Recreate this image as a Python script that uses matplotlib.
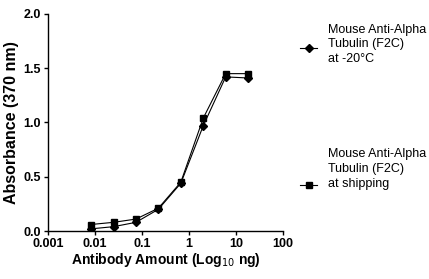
import matplotlib
matplotlib.use("Agg")
import matplotlib.pyplot as plt
from matplotlib import font_manager
from matplotlib.lines import Line2D

# ── data ──────────────────────────────────────────────────────────────────────
amount_ng = [0.0082, 0.0247, 0.074, 0.222, 0.667, 2.0, 6.0, 18.0]
abs_minus20 = [0.02, 0.04, 0.08, 0.20, 0.44, 0.97, 1.42, 1.41]
abs_shipping = [0.06, 0.08, 0.11, 0.21, 0.45, 1.04, 1.45, 1.45]

x_ticks = [0.001, 0.01, 0.1, 1, 10, 100]
x_ticklabels = ["0.001", "0.01", "0.1", "1", "10", "100"]
y_ticks = [0.0, 0.5, 1.0, 1.5, 2.0]
legend_labels = ["Mouse Anti-Alpha\nTubulin (F2C)\nat -20\u00b0C",
                 "Mouse Anti-Alpha\nTubulin (F2C)\nat shipping"]

# ── font: narrow sans if installed ────────────────────────────────────────────
names = {f.name for f in font_manager.fontManager.ttflist}
FAM = "Liberation Sans Narrow" if "Liberation Sans Narrow" in names else "Liberation Sans"
plt.rcParams["font.family"] = [FAM, "DejaVu Sans"]

fig = plt.figure(figsize=(4.29, 2.79), dpi=100)
ax = fig.add_axes([0.112, 0.172, 0.548, 0.778])

ax.plot(amount_ng, abs_minus20, color="black", lw=0.8, marker="D", ms=4.5)
ax.plot(amount_ng, abs_shipping, color="black", lw=0.8, marker="s", ms=5)

ax.set_xscale("log")
ax.set_xlim(0.001, 100)
ax.set_ylim(0, 2.0)
ax.set_xticks(x_ticks)
ax.set_xticklabels(x_ticklabels)
ax.xaxis.set_minor_locator(matplotlib.ticker.NullLocator())
ax.set_yticks(y_ticks)
ax.set_yticklabels([f"{v:.1f}" for v in y_ticks])

for sp in ["top", "right"]:
    ax.spines[sp].set_visible(False)
for sp in ["left", "bottom"]:
    ax.spines[sp].set_linewidth(1.0)
ax.tick_params(direction="out", length=3, width=1.0, labelsize=9, pad=2)
for lab in ax.get_xticklabels() + ax.get_yticklabels():
    lab.set_fontweight("bold")

ax.set_xlabel("Antibody Amount (Log$_{10}$ ng)", fontsize=10,
              fontweight="bold", labelpad=1)
ax.set_ylabel("Absorbance (370 nm)", fontsize=11.5, fontweight="bold", labelpad=3)

# ── manual legend on the right ────────────────────────────────────────────────
for (label, marker, ms, y_text, y_mark) in [
    (legend_labels[0], "D", 4.5, 0.915, 0.828),
    (legend_labels[1], "s", 5, 0.468, 0.337),
]:
    fig.add_artist(Line2D([0.70, 0.72, 0.74], [y_mark] * 3, color="black",
                          lw=0.8, marker=marker, ms=ms,
                          markevery=[1], transform=fig.transFigure))
    fig.text(0.765, y_text, label, fontsize=9, va="top", ha="left",
             linespacing=1.3)

fig.savefig("out.png", dpi=100)
